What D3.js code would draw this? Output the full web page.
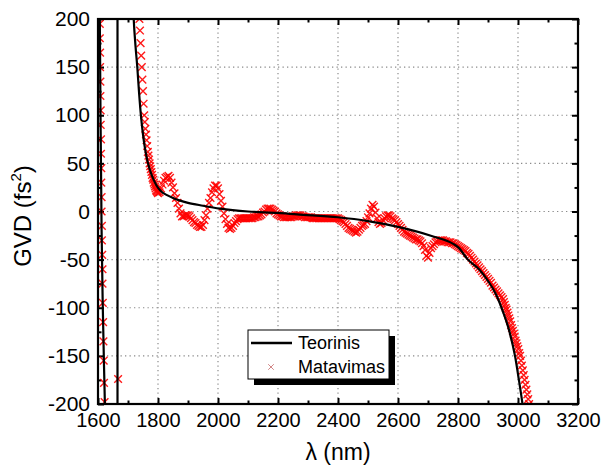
<!DOCTYPE html>
<html><head><meta charset="utf-8">
<script src="https://cdn.jsdelivr.net/npm/d3@7"></script>
<style>
body{margin:0;background:#fff;}
svg{display:block;font-family:"Liberation Sans",Arial,sans-serif;}
</style></head>
<body><svg id="chart" width="606" height="467"></svg>
<script>
// ---- data ----
const xTicks = [1600,1800,2000,2200,2400,2600,2800,3000,3200];
const xMinor = [1700,1900,2100,2300,2500,2700,2900,3100];
const yTicks = [-200,-150,-100,-50,0,50,100,150,200];
const yMinor = [-175,-125,-75,-25,25,75,125,175];
const seriesNames = ["Teorinis","Matavimas"];

// theoretical GVD (λ nm, fs^2) – includes values beyond the axis range (clipped)
const theory = [
 [1600,700],[1604,330],[1606,200],[1609,80],[1612,-20],[1616,-100],[1620,-160],[1623,-200],
 [1630,-300],[1645,-700],[1660,-5000],[1664.5,-60000],[1665.5,60000],[1690,2000],[1710,280],
 [1719,200],[1725,172],[1731,150],[1737,123],[1743,100],[1750,80],[1758,63],[1766,51],
 [1780,37],[1795,27],[1810,21],[1830,17],[1850,14],[1900,9],[1950,6],[2007,3],[2100,0],
 [2200,-1.5],[2263,-3],[2400,-6],[2500,-10],[2600,-16],[2707,-25],[2800,-37],[2833,-50],
 [2870,-60],[2900,-72],[2925,-85],[2945,-100],[2970,-123],[2990,-150],[3003,-175],[3015,-200],[3030,-240]
];

// measured GVD points near the left edge (sparse)
const measuredEdge = [
 [1606,195],[1606,180],[1607,165],[1607,150],[1608,135],[1608,120],[1609,105],[1609,90],
 [1610,75],[1610,60],[1611,45],[1611,30],[1612,15],[1612,0],[1613,-15],[1613,-30],[1614,-45],
 [1615,-60],[1615,-75],[1616,-95],[1617,-115],[1618,-135],[1619,-155],[1620,-178],[1622,-198],
 [1667,-174]
];

// measured GVD (λ nm, fs^2)
const measured = [
 [1738,200],[1740,188],[1742,175],[1744,162],[1746,150],[1748,137],[1750,125],[1752,112],
 [1754,100],[1756,93],[1758,86],[1760,80],[1762,74],[1764,68],[1766,62],[1768,58],[1770,54],
 [1772,50],[1774,47],[1776,44],[1778,41],[1780,38],[1782,35],[1784,33],[1786,30],[1788,28],
 [1790,26],[1792,24],[1794,22],[1796,21],[1798,20],
 [1800,19],[1805,20],[1810,24],[1815,28],[1820,32],[1825,35],[1830,36],[1835,37],[1840,35],
 [1845,30],[1850,25],[1855,19],[1860,14],[1865,9],[1870,3],[1875,-2],[1880,-5],[1885,-5],
 [1890,-4],[1895,-4],[1900,-4],[1905,-5],[1910,-7],[1915,-9],[1920,-11],[1925,-12],[1930,-14],
 [1935,-15],[1940,-16],[1945,-16],[1950,-14],[1955,-9],[1960,-4],[1965,3],[1970,9],[1975,14],
 [1980,20],[1985,24],[1990,27],[1995,27],[2000,24],[2005,18],[2010,11],[2015,5],[2020,-2],
 [2025,-8],[2030,-13],[2035,-17],[2040,-18],[2045,-17],[2050,-15],[2055,-12],[2060,-10],
 [2065,-8],[2070,-7],[2075,-7],[2080,-7],[2085,-7],[2090,-7],[2095,-7],[2100,-7],[2105,-7],
 [2110,-7],[2115,-7],[2120,-6],[2125,-6],[2130,-5],[2135,-5],[2140,-4],[2145,-3],[2150,-1],
 [2155,0],[2160,2],[2165,3],[2170,3],[2175,3],[2180,2],[2185,1],[2190,0],[2195,-2],[2200,-3],
 [2205,-4],[2210,-5],[2215,-5],[2220,-6],[2225,-6],[2230,-6],[2235,-6],[2240,-6],[2245,-6],
 [2250,-5],[2255,-5],[2260,-4],[2265,-4],[2270,-4],[2275,-4],[2280,-5],[2285,-5],[2290,-6],
 [2295,-6],[2300,-6],[2305,-6],[2310,-6],[2315,-7],[2320,-7],[2325,-7],[2330,-7],[2335,-7],
 [2340,-7],[2345,-7],[2350,-7],[2355,-7],[2360,-7],[2365,-7],[2370,-7],[2375,-7],[2380,-7],
 [2385,-7],[2390,-7],[2395,-7],[2400,-7],[2405,-8],[2410,-9],[2415,-10],[2420,-11],[2425,-13],
 [2430,-15],[2435,-17],[2440,-18],[2445,-19],[2450,-20],[2455,-21],[2460,-22],[2465,-21],
 [2470,-19],[2475,-17],[2480,-15],[2485,-14],[2490,-13],[2495,-10],[2500,-6],[2505,-2],
 [2510,3],[2515,7],[2520,5],[2525,-1],[2530,-7],[2535,-11],[2540,-13],[2545,-12],[2550,-9],
 [2555,-7],[2560,-5],[2565,-4],[2570,-4],[2575,-5],[2580,-7],[2585,-8],[2590,-9],[2595,-11],
 [2600,-13],[2605,-15],[2610,-17],[2615,-19],[2620,-21],[2625,-22],[2630,-23],[2635,-24],
 [2640,-25],[2645,-26],[2650,-27],[2655,-28],[2660,-29],[2665,-29],[2670,-30],[2675,-31],
 [2680,-33],[2685,-36],[2690,-40],[2695,-46],[2700,-48],[2705,-43],[2710,-38],[2715,-36],
 [2720,-34],[2725,-32],[2730,-31],[2735,-30],[2740,-30],[2745,-30],[2750,-30],[2755,-31],
 [2760,-31],[2765,-32],[2770,-32],[2775,-32],[2780,-33],[2785,-33],[2790,-34],[2795,-35],
 [2800,-36],[2805,-37],[2810,-38],[2815,-39],[2820,-40],[2825,-41],[2830,-43],[2835,-44],
 [2840,-46],[2845,-48],[2850,-50],[2855,-52],[2860,-54],[2865,-56],[2870,-58],[2875,-60],
 [2880,-62],[2885,-64],[2890,-66],[2895,-68],[2900,-70],[2905,-72],[2910,-74],[2915,-77],
 [2920,-79],[2925,-81],[2930,-83],[2935,-85],[2940,-87],[2945,-89],[2950,-91],
 [2953,-94],[2956,-97],[2959,-100],[2962,-102],[2965,-105],[2968,-108],[2971,-111],[2974,-114],
 [2977,-118],[2980,-121],[2983,-124],[2986,-127],[2989,-130],[2992,-134],[2995,-137],[2998,-140],
 [3001,-143],[3004,-147],[3007,-150],[3010,-155],[3013,-160],[3016,-165],[3019,-170],[3022,-175],
 [3025,-180],[3028,-185],[3031,-190],[3034,-195],[3037,-200]
];

// ---- drawing ----
const svg = d3.select("#chart");
svg.append("rect").attr("width",606).attr("height",467).attr("fill","#fff");
const L=98,R=578,T=19,B=404;
const x = d3.scaleLinear().domain([1600,3200]).range([L,R]);
const y = d3.scaleLinear().domain([-200,200]).range([B,T]);

svg.append("clipPath").attr("id","clip").append("rect")
  .attr("x",L).attr("y",T).attr("width",R-L).attr("height",B-T);

// grid
const grid = svg.append("g").attr("stroke","#8a8a8a").attr("stroke-width",1.2).attr("stroke-dasharray","1.3,3.2");
grid.selectAll(".gx").data(xTicks.filter(d=>d>1600&&d<3200)).join("line")
  .attr("x1",d=>x(d)).attr("x2",d=>x(d)).attr("y1",T).attr("y2",B);
grid.selectAll(".gy").data(yTicks.filter(d=>d>-200&&d<200)).join("line")
  .attr("y1",d=>y(d)).attr("y2",d=>y(d)).attr("x1",L).attr("x2",R);

// axes (inward ticks)
const fmt = d=>String(d).replace("\u2212","-");
function styleAxis(g,fs){ g.select(".domain").remove(); g.selectAll("line").attr("stroke","#000").attr("stroke-width",2); g.selectAll("text").attr("font-size",fs||20).attr("fill","#000").attr("font-family","Liberation Sans, Arial, sans-serif"); }
svg.append("g").attr("transform",`translate(0,${B})`)
  .call(d3.axisBottom(x).tickValues(xTicks).tickSize(-6).tickPadding(9).tickFormat(fmt)).call(styleAxis,20);
svg.append("g").attr("transform",`translate(0,${B})`)
  .call(d3.axisBottom(x).tickValues(xMinor).tickSize(-3.5).tickFormat("")).call(styleAxis);
svg.append("g").attr("transform",`translate(0,${T})`)
  .call(d3.axisTop(x).tickValues(xTicks).tickSize(-6).tickFormat("")).call(styleAxis);
svg.append("g").attr("transform",`translate(0,${T})`)
  .call(d3.axisTop(x).tickValues(xMinor).tickSize(-3.5).tickFormat("")).call(styleAxis);
svg.append("g").attr("transform",`translate(${L},0)`)
  .call(d3.axisLeft(y).tickValues(yTicks).tickSize(-6).tickPadding(8).tickFormat(fmt)).call(styleAxis,21);
svg.append("g").attr("transform",`translate(${L},0)`)
  .call(d3.axisLeft(y).tickValues(yMinor).tickSize(-3.5).tickFormat("")).call(styleAxis);
svg.append("g").attr("transform",`translate(${R},0)`)
  .call(d3.axisRight(y).tickValues(yTicks).tickSize(-6).tickFormat("")).call(styleAxis);
svg.append("g").attr("transform",`translate(${R},0)`)
  .call(d3.axisRight(y).tickValues(yMinor).tickSize(-3.5).tickFormat("")).call(styleAxis);

const plot = svg.append("g").attr("clip-path","url(#clip)");

// measured markers (x symbols)
const cross = d3.symbol().type(d3.symbolX).size(40);
plot.selectAll(".m").data(measuredEdge.concat(measured)).join("path")
  .attr("d",cross).attr("transform",d=>`translate(${x(d[0])},${y(d[1])})`)
  .attr("fill","none").attr("stroke","#f00").attr("stroke-width",1.4).attr("stroke-opacity",0.9);

// theory line
plot.append("path").datum(theory)
  .attr("d",d3.line().x(d=>x(d[0])).y(d=>y(d[1])).curve(d3.curveMonotoneX))
  .attr("fill","none").attr("stroke","#000").attr("stroke-width",2.2);

// frame
svg.append("rect").attr("x",L).attr("y",T).attr("width",R-L).attr("height",B-T)
  .attr("fill","none").attr("stroke","#000").attr("stroke-width",2.2);

// axis titles
svg.append("text").attr("x",(L+R)/2).attr("y",460).attr("text-anchor","middle")
  .attr("font-size",23).text("λ (nm)");
const yt = svg.append("text").attr("transform","translate(31,216) rotate(-90)")
  .attr("text-anchor","middle").attr("font-size",24);
yt.append("tspan").text("GVD (fs");
yt.append("tspan").attr("font-size",15).attr("dy",-10).text("2");
yt.append("tspan").attr("dy",10).text(")");

// legend
const lg = svg.append("g");
lg.append("rect").attr("x",254).attr("y",336).attr("width",141).attr("height",49).attr("fill","#000");
lg.append("rect").attr("x",248).attr("y",330).attr("width",141).attr("height",49).attr("fill","#fff").attr("stroke","#000").attr("stroke-width",1);
lg.append("line").attr("x1",251).attr("x2",292).attr("y1",343).attr("y2",343).attr("stroke","#000").attr("stroke-width",2.5);
lg.append("path").attr("d",d3.symbol().type(d3.symbolX).size(22)).attr("transform","translate(271,367)").attr("fill","none").attr("stroke","#c77").attr("stroke-width",0.9);
lg.append("text").attr("x",298).attr("y",349).attr("font-size",18).text(seriesNames[0]);
lg.append("text").attr("x",298).attr("y",373).attr("font-size",18).text(seriesNames[1]);
</script></body></html>
